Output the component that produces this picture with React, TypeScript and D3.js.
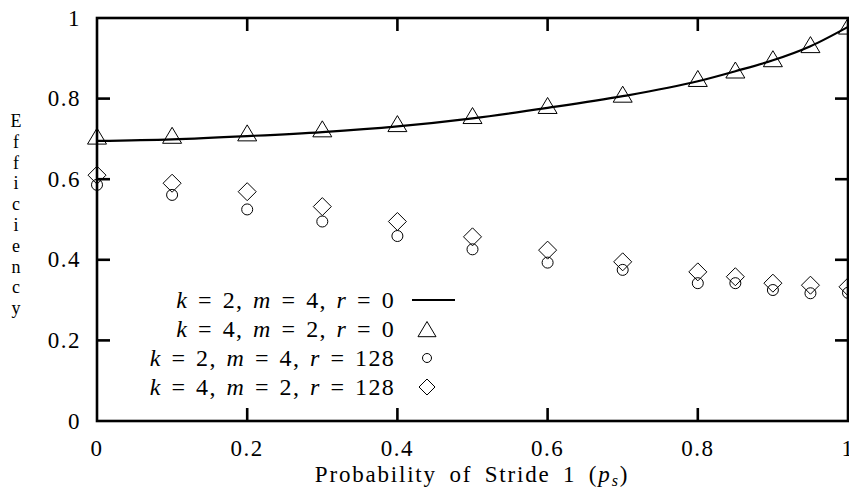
import React from "react";
import * as d3 from "d3";

const probs = [0, 0.1, 0.2, 0.3, 0.4, 0.5, 0.6, 0.7, 0.8, 0.85, 0.9, 0.95, 1];
const lineK2M4R0 = [0.695, 0.699, 0.707, 0.717, 0.731, 0.751, 0.777, 0.806, 0.843, 0.868, 0.895, 0.93, 0.978];
const triK4M2R0 = [0.702, 0.704, 0.71, 0.72, 0.733, 0.753, 0.778, 0.806, 0.845, 0.866, 0.894, 0.929, 0.975];
const circK2M4R128 = [0.586, 0.561, 0.525, 0.495, 0.459, 0.426, 0.393, 0.375, 0.342, 0.342, 0.325, 0.317, 0.318];
const diaK4M2R128 = [0.61, 0.59, 0.569, 0.532, 0.495, 0.457, 0.424, 0.395, 0.37, 0.358, 0.342, 0.337, 0.333];
const xTicks = [0, 0.2, 0.4, 0.6, 0.8, 1];
const yTicks = [0, 0.2, 0.4, 0.6, 0.8, 1];
const yTitle = "Efficiency";

const W = 849, H = 496;
const L = 97, R = 848, T = 18, B = 421;
const FONT = "'Liberation Serif', serif";
const FS = 23;

const legendRows = [
  { k: 2, m: 4, r: 0, mark: "line" },
  { k: 4, m: 2, r: 0, mark: "tri" },
  { k: 2, m: 4, r: 128, mark: "circ" },
  { k: 4, m: 2, r: 128, mark: "dia" },
];

function tri(x: number, y: number, s = 1) {
  return `M${x},${y - 10 * s}L${x + 9.5 * s},${y + 6 * s}L${x - 9.5 * s},${y + 6 * s}Z`;
}
function dia(x: number, y: number, s = 9) {
  return `M${x},${y - s}L${x + s},${y}L${x},${y + s}L${x - s},${y}Z`;
}

export default function App() {
  const x = d3.scaleLinear().domain([0, 1]).range([L, R]);
  const y = d3.scaleLinear().domain([0, 1]).range([B, T]);
  const lineGen = d3
    .line<number>()
    .x((_, i) => x(probs[i]))
    .y((d) => y(d))
    .curve(d3.curveMonotoneX);

  const legX = 395;
  const legY0 = 300;
  const legDy = 29;

  return (
    <svg
      width={W}
      height={H}
      style={{ position: "absolute", left: 0, top: 0, background: "#fff", fontFamily: FONT, fontSize: FS }}
    >
      <rect x={0} y={0} width={W} height={H} fill="#fff" />
      {/* data */}
      <path d={lineGen(lineK2M4R0) || ""} fill="none" stroke="#000" strokeWidth={2.2} />
      {triK4M2R0.map((v, i) => (
        <path key={"t" + i} d={tri(x(probs[i]), y(v))} fill="none" stroke="#000" strokeWidth={1} />
      ))}
      {circK2M4R128.map((v, i) => (
        <circle key={"c" + i} cx={x(probs[i])} cy={y(v)} r={5.5} fill="none" stroke="#000" strokeWidth={1} />
      ))}
      {diaK4M2R128.map((v, i) => (
        <path key={"d" + i} d={dia(x(probs[i]), y(v))} fill="none" stroke="#000" strokeWidth={1} />
      ))}
      {/* frame */}
      <rect x={L} y={T} width={R - L} height={B - T} fill="none" stroke="#000" strokeWidth={2.6} />
      {/* ticks */}
      {yTicks.filter((t) => t > 0 && t < 1).map((t) => (
        <g key={"yt" + t}>
          <line x1={L} x2={L + 13} y1={y(t)} y2={y(t)} stroke="#000" strokeWidth={2.6} />
          <line x1={R} x2={R - 13} y1={y(t)} y2={y(t)} stroke="#000" strokeWidth={2.6} />
        </g>
      ))}
      {xTicks.filter((t) => t > 0 && t < 1).map((t) => (
        <g key={"xt" + t}>
          <line x1={x(t)} x2={x(t)} y1={B} y2={B - 13} stroke="#000" strokeWidth={2.6} />
          <line x1={x(t)} x2={x(t)} y1={T} y2={T + 13} stroke="#000" strokeWidth={2.6} />
        </g>
      ))}
      {/* tick labels */}
      {yTicks.map((t) => (
        <text key={"yl" + t} x={81} y={y(t) + 7.5} textAnchor="end" letterSpacing={1.5}>
          {String(t)}
        </text>
      ))}
      {xTicks.map((t) => (
        <text key={"xl" + t} x={x(t)} y={456} textAnchor="middle" letterSpacing={1.5}>
          {String(t)}
        </text>
      ))}
      {/* axis titles */}
      <text x={472} y={482} textAnchor="middle" letterSpacing={1.8} wordSpacing={5}>
        Probability of Stride 1 (<tspan fontStyle="italic">p</tspan>
        <tspan fontStyle="italic" fontSize={16} dy={4}>s</tspan>
        <tspan dy={-4}>)</tspan>
      </text>
      {yTitle.split("").map((c, i) => (
        <text key={"ya" + i} x={16} y={127 + i * 20.8} textAnchor="middle" fontSize={18}>
          {c}
        </text>
      ))}
      {/* legend */}
      {legendRows.map((row, i) => {
        const cy = legY0 + i * legDy;
        return (
          <g key={"lg" + i}>
            <text x={legX} y={cy + 7.5} textAnchor="end" fontSize={24} letterSpacing={1.3} wordSpacing={2.5}>
              <tspan fontStyle="italic">k</tspan> = {row.k}, <tspan fontStyle="italic">m</tspan> = {row.m},{" "}
              <tspan fontStyle="italic">r</tspan> = {row.r}
            </text>
            {row.mark === "line" && <line x1={412} x2={455} y1={cy} y2={cy} stroke="#000" strokeWidth={2.2} />}
            {row.mark === "tri" && <path d={tri(427, cy + 2, 0.95)} fill="none" stroke="#000" strokeWidth={1} />}
            {row.mark === "circ" && <circle cx={427} cy={cy} r={4.5} fill="none" stroke="#000" strokeWidth={1} />}
            {row.mark === "dia" && <path d={dia(427, cy, 8)} fill="none" stroke="#000" strokeWidth={1} />}
          </g>
        );
      })}
    </svg>
  );
}
